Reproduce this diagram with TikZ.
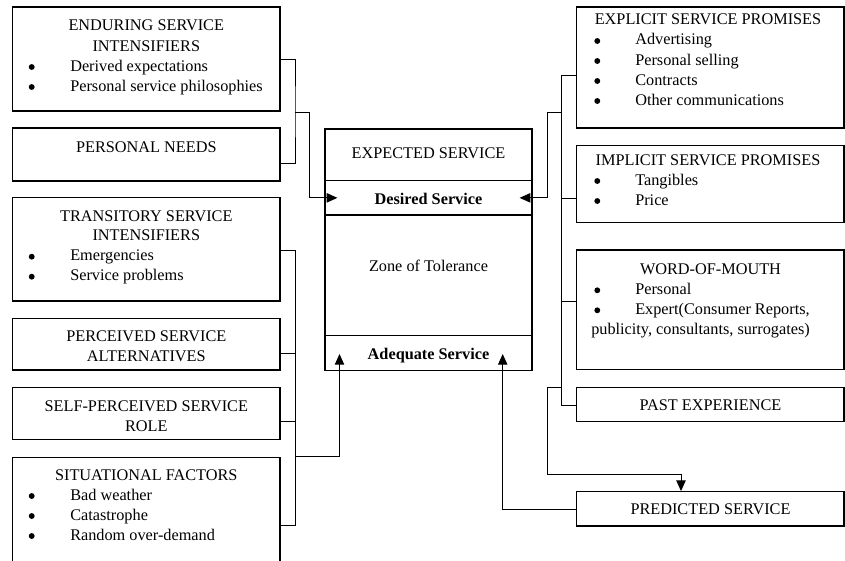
\documentclass[tikz,border=0pt]{standalone}
\usepackage{fontspec}
\setmainfont{Liberation Serif}
\usetikzlibrary{fit,arrows.meta}
\begin{document}
\begin{tikzpicture}[x=0.75pt,y=-0.75pt,
  box/.style={draw, line width=0.9pt, inner sep=0pt},
  txt/.style={anchor=base, inner sep=0pt, font=\fontsize{12.2}{15}\selectfont},
  ltxt/.style={anchor=base west, inner sep=0pt, font=\fontsize{12.2}{15}\selectfont},
  btxt/.style={txt, font=\fontsize{12.2}{15}\selectfont\bfseries},
  dot/.style={circle, fill, inner sep=0pt, minimum size=4.4pt},
  conn/.style={line width=0.75pt},
  arr/.style={conn, -{Triangle[length=8pt,width=7pt]}}]
\useasboundingbox (0,0) rectangle (845,560);
\clip (0,0) rectangle (845,560);

% ---------------- left boxes ----------------
\node[box, fit={(12.7,7)(280,111)}] (enduring) {};
\node[txt] (en1) at (146.3,31) {ENDURING SERVICE};
\node[txt] (en2) at (146.3,51) {INTENSIFIERS};
\node[dot] (en3d) at (31.7,67) {};
\node[ltxt] (en3) at (70,71) {Derived expectations};
\node[dot] (en4d) at (31.7,87) {};
\node[ltxt] (en4) at (70,91) {Personal service philosophies};

\node[box, fit={(12.7,128)(280,181)}] (needs) {};
\node[txt] (ne1) at (146.3,152.7) {PERSONAL NEEDS};

\node[box, fit={(12.7,197.3)(280,301)}] (transitory) {};
\node[txt] (tr1) at (146.3,221) {TRANSITORY SERVICE};
\node[txt] (tr2) at (146.3,240.7) {INTENSIFIERS};
\node[dot] (tr3d) at (31.7,256.7) {};
\node[ltxt] (tr3) at (70,260.7) {Emergencies};
\node[dot] (tr4d) at (31.7,276.7) {};
\node[ltxt] (tr4) at (70,280.7) {Service problems};

\node[box, fit={(12.7,318.3)(280,370)}] (alternatives) {};
\node[txt] (al1) at (146.3,341) {PERCEIVED SERVICE};
\node[txt] (al2) at (146.3,361) {ALTERNATIVES};

\node[box, fit={(12.7,387.7)(280,439.3)}] (role) {};
\node[txt] (ro1) at (146.3,411.7) {SELF-PERCEIVED SERVICE};
\node[txt] (ro2) at (146.3,431.7) {ROLE};

\node[box, fit={(12.7,457.3)(280,563)}] (situational) {};
\node[txt] (si1) at (146.3,480) {SITUATIONAL FACTORS};
\node[dot] (si2d) at (31.7,496) {};
\node[ltxt] (si2) at (70,500) {Bad weather};
\node[dot] (si3d) at (31.7,516) {};
\node[ltxt] (si3) at (70,520) {Catastrophe};
\node[dot] (si4d) at (31.7,536) {};
\node[ltxt] (si4) at (70,540) {Random over-demand};

% ---------------- centre ----------------
\node[box, fit={(325,129)(532,180.7)}] (expected) {};
\node[txt] (ex1) at (428.5,158.3) {EXPECTED SERVICE};
\node[box, fit={(325,180.7)(532,215)}] (desired) {};
\node[btxt] (de1) at (428.5,204) {Desired Service};
\node[box, fit={(325,215)(532,335.7)}] (zone) {};
\node[txt] (zo1) at (428.5,271.7) {Zone of Tolerance};
\node[box, fit={(325,335.7)(532,370.5)}] (adequate) {};
\node[btxt] (ad1) at (428.5,359.3) {Adequate Service};

% ---------------- right boxes ----------------
\node[box, fit={(576.7,7)(844,128)}] (explicit) {};
\node[txt] (xp1) at (708,25) {EXPLICIT SERVICE PROMISES};
\node[dot] (xp2d) at (597.3,41) {};
\node[ltxt] (xp2) at (635,45) {Advertising};
\node[dot] (xp3d) at (597.3,61) {};
\node[ltxt] (xp3) at (635,65) {Personal selling};
\node[dot] (xp4d) at (597.3,81) {};
\node[ltxt] (xp4) at (635,85) {Contracts};
\node[dot] (xp5d) at (597.3,101) {};
\node[ltxt] (xp5) at (635,105) {Other communications};

\node[box, fit={(576.7,145.7)(844,222.7)}] (implicit) {};
\node[txt] (im1) at (708,165) {IMPLICIT SERVICE PROMISES};
\node[dot] (im2d) at (597.3,181) {};
\node[ltxt] (im2) at (635,185) {Tangibles};
\node[dot] (im3d) at (597.3,201) {};
\node[ltxt] (im3) at (635,205) {Price};

\node[box, fit={(576.7,250)(844,369.5)}] (wom) {};
\node[txt] (wo1) at (710.5,274.3) {WORD-OF-MOUTH};
\node[dot] (wo2d) at (597.3,290.3) {};
\node[ltxt] (wo2) at (635,294.3) {Personal};
\node[dot] (wo3d) at (597.3,310.3) {};
\node[ltxt] (wo3) at (635,314.3) {Expert(Consumer Reports,};
\node[ltxt] (wo4) at (591,334.3) {publicity, consultants, surrogates)};

\node[box, fit={(576.7,387.3)(844,421.7)}] (past) {};
\node[txt] (pa1) at (710.5,410.3) {PAST EXPERIENCE};

\node[box, fit={(576.7,491.7)(844,526)}] (predicted) {};
\node[txt] (pr1) at (710.5,514.3) {PREDICTED SERVICE};

% ---------------- connectors: left ----------------
\coordinate (jl1) at (295,112);
\draw[conn] (enduring.east |- 0,60) -| (jl1) |- (needs.east |- 0,163);
\draw[arr] (jl1) -- (309.5,112) |- ([xshift=9.75pt]desired.west);

\coordinate (jl2) at (295,456.7);
\draw[conn] (transitory.east |- 0,250) -| (295,525) -- (situational.east |- 0,525);
\draw[conn] (alternatives.east |- 0,353.3) -- (295,353.3);
\draw[conn] (role.east |- 0,421.7) -- (295,421.7);
\draw[arr] (jl2) -| (339.5,354);

% ---------------- connectors: right ----------------
\coordinate (jr1) at (561.7,112);
\coordinate (jr2) at (561.7,387.3);
\draw[conn] (explicit.west |- 0,76) -| (561.7,405) -- (past.west |- 0,405);
\draw[conn] (implicit.west |- 0,198) -- (561.7,198);
\draw[conn] (wom.west |- 0,301) -- (561.7,301);
\draw[arr] (jr1) -- (547.5,112) |- ([xshift=-9.75pt]desired.east);
\draw[arr] (jr2) -- (547.5,387.3) |- (681,474) -- (predicted.north -| 681,0);
\draw[arr] (predicted.west |- 0,509) -| (502.7,354);
\end{tikzpicture}
\end{document}
